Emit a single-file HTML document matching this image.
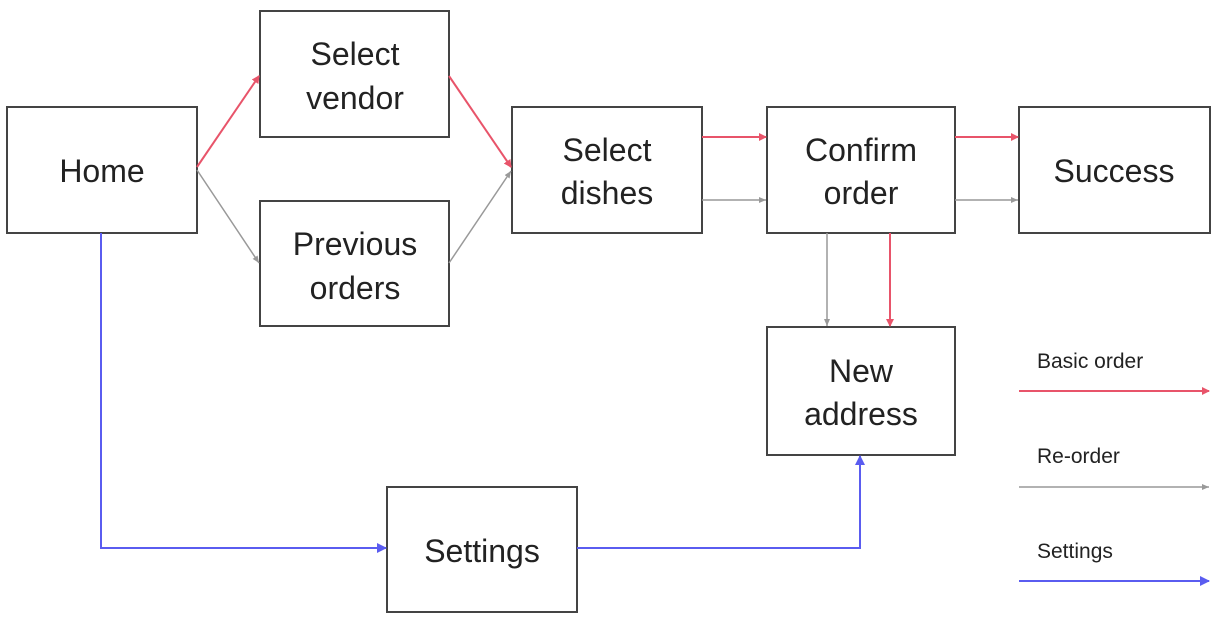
<!DOCTYPE html>
<html><head><style>
html,body{margin:0;padding:0;background:#fff;}
svg{display:block;}
text{font-family:"Liberation Sans",Arial,sans-serif;fill:#222;}
</style></head><body>
<svg width="1220" height="622" viewBox="0 0 1220 622">
<defs>
<marker id="r" markerWidth="8" markerHeight="8" refX="7" refY="4" orient="auto" markerUnits="userSpaceOnUse"><path d="M0,0 L8,4 L0,8z" fill="#e8546a"/></marker>
<marker id="g" markerWidth="8" markerHeight="8" refX="7" refY="4" orient="auto" markerUnits="userSpaceOnUse"><path d="M0,1 L7,4 L0,7z" fill="#999"/></marker>
<marker id="b" markerWidth="10" markerHeight="10" refX="9" refY="5" orient="auto" markerUnits="userSpaceOnUse"><path d="M0,0 L10,5 L0,10z" fill="#5a5cf0"/></marker>
</defs>
<g fill="#fff" stroke="#444" stroke-width="2">
<rect x="7" y="107" width="190" height="126"/>
<rect x="260" y="11" width="189" height="126"/>
<rect x="260" y="201" width="189" height="125"/>
<rect x="512" y="107" width="190" height="126"/>
<rect x="767" y="107" width="188" height="126"/>
<rect x="1019" y="107" width="191" height="126"/>
<rect x="767" y="327" width="188" height="128"/>
<rect x="387" y="487" width="190" height="125"/>
</g>
<g fill="none" stroke-width="2">
<line x1="197" y1="167" x2="259" y2="76" stroke="#e8546a" marker-end="url(#r)"/>
<line x1="449" y1="76" x2="511" y2="167" stroke="#e8546a" marker-end="url(#r)"/>
<line x1="702" y1="137" x2="766" y2="137" stroke="#e8546a" marker-end="url(#r)"/>
<line x1="955" y1="137" x2="1018" y2="137" stroke="#e8546a" marker-end="url(#r)"/>
<line x1="890" y1="233" x2="890" y2="326" stroke="#e8546a" marker-end="url(#r)"/>
<line x1="1019" y1="391" x2="1209" y2="391" stroke="#e8546a" marker-end="url(#r)"/>
</g>
<g fill="none" stroke="#999" stroke-width="1.5">
<line x1="197" y1="170" x2="259" y2="263" marker-end="url(#g)"/>
<line x1="449" y1="263" x2="511" y2="171" marker-end="url(#g)"/>
<line x1="702" y1="200" x2="766" y2="200" marker-end="url(#g)"/>
<line x1="955" y1="200" x2="1018" y2="200" marker-end="url(#g)"/>
<line x1="827" y1="233" x2="827" y2="326" marker-end="url(#g)"/>
<line x1="1019" y1="487" x2="1209" y2="487" marker-end="url(#g)"/>
</g>
<g fill="none" stroke="#5a5cf0" stroke-width="2">
<polyline points="101,233 101,548 386,548" marker-end="url(#b)"/>
<polyline points="577,548 860,548 860,456" marker-end="url(#b)"/>
<line x1="1019" y1="581" x2="1209" y2="581" marker-end="url(#b)"/>
</g>
<g font-size="32" text-anchor="middle">
<text x="102" y="182">Home</text>
<text x="355" y="65">Select</text><text x="355" y="109">vendor</text>
<text x="355" y="255">Previous</text><text x="355" y="299">orders</text>
<text x="607" y="161">Select</text><text x="607" y="204">dishes</text>
<text x="861" y="161">Confirm</text><text x="861" y="204">order</text>
<text x="1114" y="182">Success</text>
<text x="861" y="382">New</text><text x="861" y="425">address</text>
<text x="482" y="562">Settings</text>
</g>
<g font-size="21">
<text x="1037" y="368">Basic order</text>
<text x="1037" y="463">Re-order</text>
<text x="1037" y="558">Settings</text>
</g>
</svg>
</body></html>
